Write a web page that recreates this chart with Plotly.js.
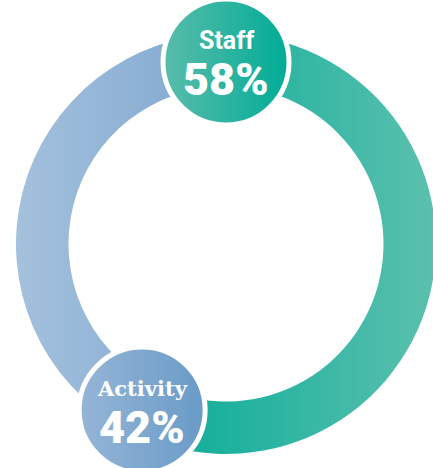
<!DOCTYPE html>
<html>
<head>
<meta charset="utf-8">
<script src="https://cdn.plot.ly/plotly-3.0.1.min.js"></script>
<style>
  html, body { margin: 0; padding: 0; overflow: hidden; background: #fff; }
  #chart { width: 440px; height: 468px; }
</style>
</head>
<body>
<div id="chart"></div>
<script>
const labels = ["Staff", "Activity"];
const shares = [58, 42];
// left -> right gradient stops
const ringStops = [["#00ab96", "#5cc0ae"], ["#a4c1dd", "#7ea6cf"]];
const badgeStops = [["#5abcab", "#00ac96"], ["#96b5d7", "#689bc7"]];
const labelFonts = ["Roboto, sans-serif", "DejaVu Serif, serif"];
const labelSizes = [25, 21];

const W = 440, H = 468;
const cx = 226, cy = 244, rOut = 210, hole = 0.75;
const rBadge = 63;
// where each badge sits, relative to the start of its slice
const badgeDist = [182, 186];
const badgeNudge = [0, -2];   // degrees

const px = x => x / W;
const py = y => 1 - y / H;

const total = shares.reduce((a, b) => a + b, 0);
let shapes = [], annotations = [];
let acc = 0;
shares.forEach(function (v, i) {
  let ang = (acc / total * 360 + badgeNudge[i]) * Math.PI / 180;
  acc += v;
  let bx = cx + badgeDist[i] * Math.sin(ang);
  let by = cy - badgeDist[i] * Math.cos(ang);
  shapes.push({
    type: 'circle', layer: 'above',
    xref: 'paper', yref: 'paper',
    xsizemode: 'pixel', ysizemode: 'pixel',
    xanchor: px(bx), yanchor: py(by),
    x0: -rBadge, x1: rBadge, y0: -rBadge, y1: rBadge,
    fillcolor: badgeStops[i][1],
    line: {color: '#ffffff', width: 5}
  });
  annotations.push({
    xref: 'paper', yref: 'paper', x: px(bx), y: py(by - 22),
    text: labels[i], showarrow: false, xanchor: 'center', yanchor: 'middle',
    font: {family: labelFonts[i], size: labelSizes[i], color: '#ffffff', weight: 700}
  });
  annotations.push({
    xref: 'paper', yref: 'paper', x: px(bx), y: py(by + 17),
    text: v + '%', showarrow: false, xanchor: 'center', yanchor: 'middle',
    font: {family: 'Roboto, sans-serif', size: 45, color: '#ffffff', weight: 900}
  });
});

let data = [{
  type: 'pie',
  labels: labels,
  values: shares,
  sort: false,
  direction: 'clockwise',
  rotation: 0,
  hole: hole,
  textinfo: 'none',
  hoverinfo: 'none',
  showlegend: false,
  marker: {colors: ringStops.map(s => s[1]), line: {width: 0}},
  domain: {x: [px(cx - rOut), px(cx + rOut)], y: [py(cy + rOut), py(cy - rOut)]}
}];

let layout = {
  width: W, height: H,
  margin: {l: 0, r: 0, t: 0, b: 0},
  paper_bgcolor: '#ffffff',
  showlegend: false,
  shapes: shapes,
  annotations: annotations
};

Plotly.newPlot('chart', data, layout, {staticPlot: true}).then(function (gd) {
  const ns = 'http://www.w3.org/2000/svg';
  const svg = gd.querySelector('svg.main-svg');
  let defs = svg.querySelector('defs');
  function addGrad(id, stops) {
    let g = document.createElementNS(ns, 'linearGradient');
    g.setAttribute('id', id);
    g.setAttribute('x1', '0'); g.setAttribute('y1', '0');
    g.setAttribute('x2', '1'); g.setAttribute('y2', '0');
    stops.forEach(function (c, k) {
      let s = document.createElementNS(ns, 'stop');
      s.setAttribute('offset', k / (stops.length - 1));
      s.setAttribute('stop-color', c);
      g.appendChild(s);
    });
    defs.appendChild(g);
  }
  ringStops.forEach((s, i) => addGrad('ring' + i, s));
  badgeStops.forEach((s, i) => addGrad('badge' + i, s));
  gd.querySelectorAll('.pielayer .slice path.surface').forEach(function (p, i) {
    p.style.fill = 'url(#ring' + i + ')';
  });
  gd.querySelectorAll('.layer-above .shapelayer path').forEach(function (p, i) {
    p.style.fill = 'url(#badge' + i + ')';
  });
});
</script>
</body>
</html>
